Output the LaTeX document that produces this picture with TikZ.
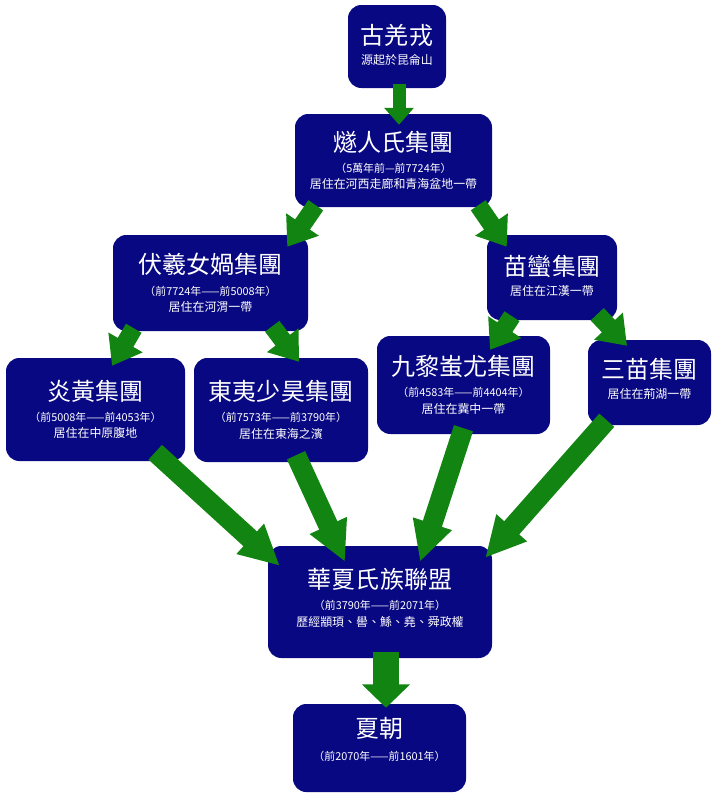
\documentclass[tikz,border=0pt]{standalone}
\usepackage{fontspec}
\setmainfont{Noto Sans CJK TC}
\usetikzlibrary{arrows.meta}
\definecolor{navy}{RGB}{8,8,130}
\definecolor{leaf}{RGB}{18,132,18}
\newcommand{\ttl}[1]{{\fontsize{20.5}{22}\selectfont #1}}
\newcommand{\yrs}[1]{{\fontsize{9.3}{12}\selectfont #1}}
\newcommand{\res}[1]{{\fontsize{10.2}{13}\selectfont #1}}
\tikzset{
  grp/.style 2 args={minimum width={#1*0.03cm}, minimum height={#2*0.03cm},
    rounded corners=0.4cm, fill=navy, text=white, align=center, inner sep=0pt},
  flow/.style n args={3}{draw=leaf, line width={#1*0.03cm},
    -{Triangle[length=0pt #3, width=0pt #2]}}
}
\begin{document}
\begin{tikzpicture}[x=0.03cm, y=-0.03cm]
  \useasboundingbox (0,0) rectangle (720,799);

  % groups
  \node[grp={98}{83}] (gq) at (397,46.5) {\ttl{古羌戎}\\[5pt]\res{源起於昆侖山}\\[-8pt]\mbox{}};
  \node[grp={197}{93}] (sr) at (393.5,160.5) {\ttl{燧人氏集團}\\[6pt]\yrs{（5萬年前—前7724年）}\\[2pt]\res{居住在河西走廊和青海盆地一帶}};
  \node[grp={195}{96}] (fx) at (210.5,283) {\ttl{伏羲女媧集團}\\[6pt]\yrs{（前7724年——前5008年）}\\[2pt]\res{居住在河渭一帶}};
  \node[grp={130}{85}] (mm) at (552,277.5) {\ttl{苗蠻集團}\\[5pt]\res{居住在江漢一帶}\\[-8pt]\mbox{}};
  \node[grp={179}{103}] (yh) at (95.5,409.5) {\ttl{炎黃集團}\\[6pt]\yrs{（前5008年——前4053年）}\\[2pt]\res{居住在中原腹地}};
  \node[grp={174}{104}] (dy) at (281,410) {\ttl{東夷少昊集團}\\[6pt]\yrs{（前7573年——前3790年）}\\[2pt]\res{居住在東海之濱}};
  \node[grp={173}{98}] (jl) at (463.5,385) {\ttl{九黎蚩尤集團}\\[6pt]\yrs{（前4583年——前4404年）}\\[2pt]\res{居住在冀中一帶}};
  \node[grp={123}{85}] (sm) at (649.5,382.5) {\ttl{三苗集團}\\[5pt]\res{居住在荊湖一帶}\\[-5pt]\mbox{}};
  \node[grp={224}{112}] (hx) at (380,602) {\ttl{華夏氏族聯盟}\\[6pt]\yrs{（前3790年——前2071年）}\\[2pt]\res{歷經顓頊、嚳、鯀、堯、舜政權}\\[-4pt]\mbox{}};
  \node[grp={173}{88}] (xc) at (379.5,748) {\ttl{夏朝}\\[8pt]\yrs{（前2070年——前1601年）}\\[4pt]\mbox{}};

  % arrows
  \draw[flow={13}{2.2}{1.3}] ([shift={(2,-4)}]gq.south) -- ([shift={(5.5,11)}]sr.north);
  \draw[flow={18}{2.1}{1.5}] ([shift={(21,-2)}]sr.south west) -- ([shift={(-21,12)}]fx.north east);
  \draw[flow={18}{2.1}{1.5}] ([shift={(-14,-2)}]sr.south east) -- ([shift={(20,12)}]mm.north west);
  \draw[flow={18}{2.1}{1.5}] ([shift={(21,-3)}]fx.south west) -- ([shift={(16.5,8)}]yh.north);
  \draw[flow={18}{2.1}{1.5}] ([shift={(-36,-5)}]fx.south east) -- ([shift={(18,4)}]dy.north);
  \draw[flow={18}{2.1}{1.5}] ([shift={(-40,-4)}]mm.south) -- ([shift={(26.5,14)}]jl.north);
  \draw[flow={18}{2.1}{1.5}] ([shift={(-20,-6)}]mm.south east) -- ([shift={(-22.5,6)}]sm.north);
  \draw[flow={20}{1.9}{2.0}] ([shift={(-30,-9)}]yh.south east) -- ([shift={(12,20)}]hx.north west);
  \draw[flow={20}{1.9}{2.0}] ([shift={(15,-7)}]dy.south) -- ([shift={(-35,16)}]hx.north);
  \draw[flow={20}{1.9}{2.0}] ([shift={(0,-6)}]jl.south) -- ([shift={(40,16)}]hx.north);
  \draw[flow={20}{1.9}{2.0}] ([shift={(19,-5)}]sm.south west) -- ([shift={(-7,12)}]hx.north east);
  \draw[flow={26}{1.8}{0.9}] ([shift={(6,-6)}]hx.south) -- ([shift={(6.5,4)}]xc.north);
\end{tikzpicture}
\end{document}
